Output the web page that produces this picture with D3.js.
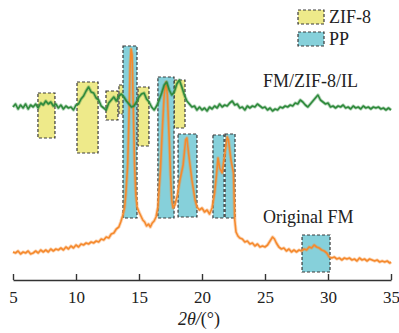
<!DOCTYPE html>
<html><head><meta charset="utf-8">
<script src="https://cdn.jsdelivr.net/npm/d3@7"></script>
<style>
html,body{margin:0;padding:0;background:#fff;}
svg{display:block;font-family:"Liberation Serif","DejaVu Serif",serif;}
</style></head>
<body><svg id="c" width="399" height="333"></svg>
<script>
// ---- data ----
const xTicks = [5, 10, 15, 20, 25, 30, 35];
const seriesNames = ["FM/ZIF-8/IL", "Original FM"];
const legendLabels = ["ZIF-8", "PP"];
const xLabel = ["2θ/", "(°)"];
// FM/ZIF-8/IL pattern [2θ, intensity]
const greenSeries = [[5.0,173],[5.2,176],[5.4,171],[5.6,175],[5.8,172],[6.0,176],[6.2,171],[6.4,175],[6.6,173],[6.8,176],[7.0,172],[7.2,177],[7.4,175],[7.6,179],[7.8,176],[8.0,178],[8.2,174],[8.4,176],[8.6,172],[8.8,175],[9.0,171],[9.2,174],[9.4,172],[9.6,173],[9.8,170],[10.0,175],[10.2,176],[10.4,181],[10.6,184],[10.8,189],[11.0,193],[11.2,188],[11.4,187],[11.6,182],[11.8,180],[12.0,174],[12.2,172],[12.4,170],[12.6,177],[12.8,180],[13.0,183],[13.2,179],[13.4,184],[13.6,186],[13.8,183],[14.0,179],[14.2,176],[14.4,173],[14.6,174],[14.8,178],[15.0,183],[15.2,186],[15.4,187],[15.6,181],[15.8,178],[16.0,173],[16.2,170],[16.4,174],[16.6,180],[16.8,187],[17.0,195],[17.2,198],[17.4,190],[17.6,185],[17.8,188],[18.0,196],[18.2,200],[18.4,193],[18.6,185],[18.8,179],[19.0,176],[19.2,173],[19.4,174],[19.6,170],[19.8,173],[20.0,170],[20.2,172],[20.4,169],[20.6,173],[20.8,171],[21.0,174],[21.2,172],[21.4,176],[21.6,173],[21.8,175],[22.0,174],[22.2,177],[22.4,179],[22.6,175],[22.8,176],[23.0,172],[23.2,173],[23.4,170],[23.6,174],[23.8,172],[24.0,174],[24.2,173],[24.4,176],[24.6,174],[24.8,172],[25.0,173],[25.2,170],[25.4,172],[25.6,169],[25.8,171],[26.0,170],[26.2,173],[26.4,172],[26.6,174],[26.8,173],[27.0,175],[27.2,174],[27.4,177],[27.6,176],[27.8,180],[28.0,178],[28.2,175],[28.4,173],[28.6,176],[28.8,179],[29.0,182],[29.2,185],[29.4,180],[29.6,178],[29.8,176],[30.0,177],[30.2,173],[30.4,174],[30.6,172],[30.8,174],[31.0,173],[31.2,175],[31.4,172],[31.6,173],[31.8,171],[32.0,174],[32.2,172],[32.4,173],[32.6,171],[32.8,174],[33.0,172],[33.2,173],[33.4,171],[33.6,173],[33.8,172],[34.0,173],[34.2,171],[34.4,172],[34.6,170],[34.8,172],[35.0,170]];
// Original FM pattern [2θ, intensity]
const orangeSeries = [[5.0,28],[5.2,27],[5.4,29],[5.6,26],[5.8,28],[6.0,27],[6.2,29],[6.4,26],[6.6,27],[6.8,29],[7.0,27],[7.2,30],[7.4,28],[7.6,30],[7.8,28],[8.0,31],[8.2,29],[8.4,31],[8.6,30],[8.8,32],[9.0,30],[9.2,33],[9.4,31],[9.6,34],[9.8,32],[10.0,35],[10.2,33],[10.4,36],[10.6,35],[10.8,37],[11.0,36],[11.2,38],[11.4,37],[11.6,39],[11.8,38],[12.0,41],[12.2,40],[12.4,43],[12.6,42],[12.8,46],[13.0,47],[13.2,51],[13.4,53],[13.55,58],[13.7,64],[13.85,72],[13.95,85],[14.1,115],[14.2,160],[14.3,215],[14.37,231],[14.45,225],[14.55,170],[14.65,115],[14.75,85],[14.85,73],[15.0,68],[15.15,64],[15.3,60],[15.45,58],[15.6,54],[15.75,56],[15.9,53],[16.05,57],[16.2,59],[16.35,63],[16.5,73],[16.7,110],[16.85,150],[17.0,185],[17.14,198],[17.25,185],[17.4,140],[17.5,105],[17.6,80],[17.7,72],[17.85,75],[18.05,85],[18.25,100],[18.5,115],[18.7,140],[18.8,142],[18.95,125],[19.2,100],[19.45,80],[19.6,73],[19.8,70],[20.0,72],[20.2,68],[20.4,70],[20.6,66],[20.8,72],[21.0,87],[21.15,105],[21.27,122],[21.4,112],[21.6,107],[21.8,125],[22.0,143],[22.1,140],[22.3,120],[22.5,107],[22.6,60],[22.7,48],[22.85,44],[23.0,42],[23.2,41],[23.4,38],[23.6,39],[23.8,36],[24.0,37],[24.2,34],[24.4,36],[24.6,33],[24.8,34],[25.0,33],[25.2,35],[25.4,39],[25.6,43],[25.75,41],[25.9,37],[26.1,33],[26.3,31],[26.5,32],[26.7,29],[26.9,31],[27.1,28],[27.3,30],[27.5,28],[27.7,30],[27.9,29],[28.1,31],[28.3,30],[28.5,33],[28.7,32],[28.9,35],[29.1,33],[29.3,32],[29.5,30],[29.7,29],[29.9,27],[30.1,23],[30.3,22],[30.5,23],[30.7,21],[30.9,22],[31.1,20],[31.3,22],[31.5,21],[31.7,22],[31.9,20],[32.1,21],[32.3,19],[32.5,22],[32.7,20],[32.9,21],[33.1,19],[33.3,21],[33.5,20],[33.7,19],[33.9,20],[34.1,18],[34.3,19],[34.5,18],[34.7,19],[34.9,17],[35.0,18]];
// highlight regions [x0, x1, top, bottom]
const zifBoxes = [[6.98,8.33,187,142],[10.08,11.75,198,127],[12.38,13.33,189,160],[13.41,14.05,195,166],[14.92,15.79,193,134],[17.78,18.65,200,152]];
const ppBoxes = [[13.73,14.84,234,62],[16.5,17.78,203,62],[18.1,19.6,146,63],[20.87,21.75,145,62],[21.83,22.62,146,62],[27.94,30.16,45,8]];

// ---- drawing ----
const svg = d3.select("#c");
const x = d3.scaleLinear().domain([5,35]).range([13,391]);
const y = d3.scaleLinear().domain([0,250]).range([280,30]);
const YEL = "#eeea8a", BLU = "#86d0da", GRN = "#2f8a3c", ORG = "#f58a2e";

function drawBoxes(data, fill){
  svg.append("g").selectAll("rect").data(data).join("rect")
    .attr("x", d => x(d[0])).attr("width", d => x(d[1]) - x(d[0]))
    .attr("y", d => y(d[2])).attr("height", d => y(d[3]) - y(d[2]))
    .attr("fill", fill).attr("stroke", "#3a3a3a").attr("stroke-width", 1.2)
    .attr("stroke-dasharray", "3,2");
}
drawBoxes(zifBoxes, YEL);
drawBoxes(ppBoxes, BLU);

const line = d3.line().x(d => x(d[0])).y(d => y(d[1]));
function drawSeries(data, color){
  svg.append("path").datum(data).attr("d", line).attr("fill","none")
    .attr("stroke", color).attr("stroke-width", 3.4).attr("stroke-opacity", 0.35).attr("stroke-linejoin","round");
  svg.append("path").datum(data).attr("d", line).attr("fill","none")
    .attr("stroke", color).attr("stroke-width", 1.6).attr("stroke-linejoin","round");
}
drawSeries(orangeSeries, ORG);
drawSeries(greenSeries, GRN);

// axis
const ax = svg.append("g").attr("transform", "translate(0,280)")
  .call(d3.axisBottom(x).tickValues(xTicks).tickFormat(d3.format("d"))
    .tickSizeInner(-6).tickSizeOuter(0).tickPadding(11));
ax.select(".domain").attr("stroke", "#333").attr("stroke-width", 1.4);
ax.selectAll(".tick line").attr("stroke", "#333").attr("stroke-width", 1.4);
ax.selectAll(".tick text").attr("font-size", 17).attr("fill", "#222")
  .attr("font-family", "Liberation Serif, serif");

// x label
const xl = svg.append("text").attr("x", 199).attr("y", 325).attr("text-anchor", "middle")
  .attr("font-size", 18).attr("fill", "#222");
xl.append("tspan").attr("font-style", "italic").text(xLabel[0]);
xl.append("tspan").text(xLabel[1]);

// series labels
svg.append("text").attr("x", 263).attr("y", 87).attr("font-size", 18).attr("fill", "#222").text(seriesNames[0]);
svg.append("text").attr("x", 263).attr("y", 223).attr("font-size", 18).attr("fill", "#222").text(seriesNames[1]);

// legend
const lg = svg.append("g");
[YEL, BLU].forEach((c, i) => {
  lg.append("rect").attr("x", 298).attr("y", 10 + i*22).attr("width", 26).attr("height", 14)
    .attr("fill", c).attr("stroke", "#3a3a3a").attr("stroke-width", 1.2).attr("stroke-dasharray", "3,2");
  lg.append("text").attr("x", 329).attr("y", 23 + i*22).attr("font-size", 18).attr("fill", "#222").text(legendLabels[i]);
});
</script></body></html>
